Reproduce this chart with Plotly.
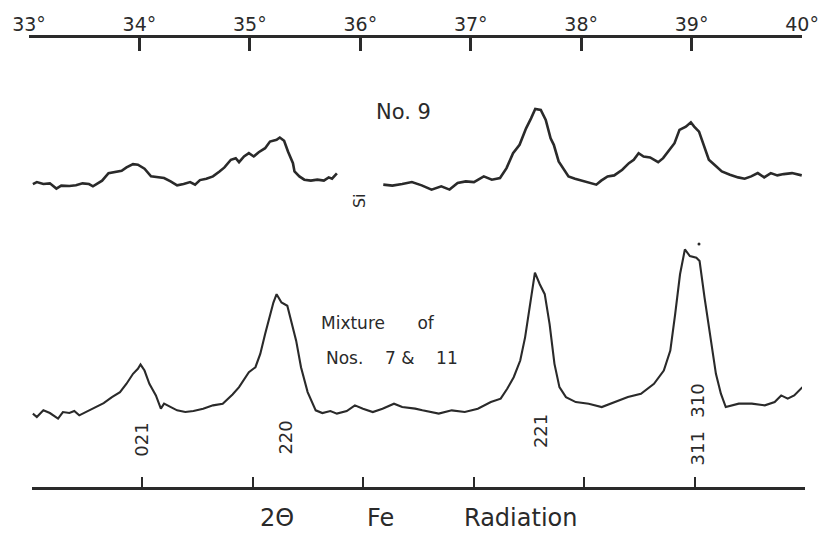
import plotly.graph_objects as go

# ---------------- data (2-theta in degrees, recorder intensity in chart units) -------------
ticks_deg = [33, 34, 35, 36, 37, 38, 39, 40]
tick_labels = ["33°", "34°", "35°", "36°", "37°", "38°", "39°", "40°"]

# Sample No. 9 - left segment (before Si gap)
no9_a_x = [33.035, 33.071, 33.130, 33.189, 33.248, 33.292, 33.366, 33.425, 33.485, 33.543,
           33.579, 33.662, 33.720, 33.780, 33.839, 33.883, 33.942, 33.986, 34.046, 34.105,
           34.163, 34.223, 34.282, 34.341, 34.400, 34.459, 34.504, 34.548, 34.606, 34.666,
           34.725, 34.770, 34.828, 34.872, 34.902, 34.947, 34.991, 35.035, 35.080, 35.138,
           35.182, 35.242, 35.271, 35.310, 35.345, 35.390, 35.404, 35.448, 35.493, 35.552,
           35.611, 35.670, 35.714, 35.744, 35.788]
no9_a_y = [304.3, 306.3, 304.3, 305, 299.7, 302.7, 302.3, 303, 305, 304.3,
           302, 307.7, 315.3, 316.3, 317.7, 321, 324.3, 323.7, 319.7, 312,
           311, 310.3, 307, 303, 304.3, 306.3, 303.7, 308.3, 309.7, 312,
           317, 321, 328.7, 330.3, 326.3, 332, 335.3, 332, 336.3, 340.3,
           347, 348.7, 351, 347.7, 337, 325.3, 317, 312, 308.7, 307.7,
           308.7, 307.7, 311, 309.7, 315]

# Sample No. 9 - right segment (after Si gap)
no9_b_x = [36.208, 36.290, 36.379, 36.467, 36.556, 36.645, 36.733, 36.808, 36.881, 36.955,
           37.029, 37.118, 37.191, 37.265, 37.324, 37.383, 37.442, 37.501, 37.546, 37.584,
           37.634, 37.679, 37.723, 37.752, 37.796, 37.841, 37.885, 37.944, 38.033, 38.137,
           38.181, 38.239, 38.299, 38.372, 38.432, 38.476, 38.520, 38.565, 38.624, 38.697,
           38.742, 38.801, 38.845, 38.890, 38.948, 38.993, 39.023, 39.067, 39.111, 39.156,
           39.214, 39.273, 39.347, 39.421, 39.480, 39.539, 39.599, 39.657, 39.717, 39.776,
           39.834, 39.909, 39.997]
no9_b_y = [303.7, 302.7, 304.3, 306.3, 303, 298.7, 302, 298.7, 305.3, 307,
           306.3, 312, 308.7, 310.3, 320.3, 335.3, 343.7, 360.3, 370.3, 379.7,
           378.7, 368.7, 350.3, 343.7, 327, 318.7, 312, 309.7, 307, 303.7,
           307.7, 312, 313, 318.7, 325.3, 328.7, 335.3, 332, 331, 326.3,
           330.3, 338.7, 345.3, 358.7, 362, 366.3, 362, 357, 343.7, 328.7,
           323, 317, 313.7, 311, 309.7, 312, 315.3, 311, 315.3, 313,
           314.3, 315.3, 313]

# Mixture of Nos. 7 & 11
mix_x = [33.035, 33.071, 33.130, 33.189, 33.263, 33.307, 33.366, 33.410, 33.455, 33.529,
         33.603, 33.676, 33.751, 33.824, 33.883, 33.942, 33.986, 34.010, 34.046, 34.090,
         34.149, 34.194, 34.223, 34.282, 34.341, 34.415, 34.489, 34.577, 34.666, 34.754,
         34.843, 34.902, 34.991, 35.050, 35.094, 35.138, 35.182, 35.213, 35.242, 35.286,
         35.339, 35.375, 35.419, 35.463, 35.523, 35.596, 35.656, 35.729, 35.788, 35.877,
         35.951, 36.024, 36.113, 36.201, 36.305, 36.379, 36.497, 36.562, 36.710, 36.828,
         36.946, 37.064, 37.182, 37.271, 37.330, 37.389, 37.448, 37.492, 37.537, 37.581,
         37.625, 37.670, 37.714, 37.758, 37.803, 37.862, 37.951, 38.068, 38.186, 38.305,
         38.423, 38.541, 38.659, 38.748, 38.807, 38.851, 38.895, 38.939, 38.984, 39.043,
         39.072, 39.117, 39.161, 39.220, 39.265, 39.309, 39.427, 39.545, 39.663, 39.752,
         39.811, 39.870, 39.929, 39.974, 40.003]
mix_y = [73.7, 70.3, 77, 74.3, 68.7, 75.3, 74.3, 76.3, 72, 76.3,
         80.3, 84.3, 90.3, 95.3, 103.7, 113.7, 118.7, 123, 117, 103.7,
         92, 78.7, 83.7, 80.3, 77, 75.3, 76.3, 78.7, 82, 83.7,
         93, 100.3, 115.3, 120.3, 133.7, 153.7, 173.7, 185.3, 193.7, 185.3,
         182, 167, 147, 120.3, 95.3, 77, 74.3, 76.3, 73.7, 76.3,
         82, 78.7, 75.3, 78.7, 83.7, 80.3, 78.7, 77, 73.7, 77,
         75.3, 78.7, 85.3, 88.7, 98.7, 110.3, 127, 150.3, 183.7, 215.3,
         203.7, 193.7, 163.7, 123.7, 100.3, 90.3, 85.3, 83.7, 80.3, 85.3,
         90.3, 93.7, 103.7, 117, 137, 173.7, 213.7, 238.7, 232, 230.3,
         227, 190.3, 157, 113.7, 93.7, 80.3, 83.7, 83.7, 82, 85.3,
         92, 88.7, 92, 97, 100.3]

speck_x = [39.04]
speck_y = [244]

# reflection labels (hkl) and their 2-theta positions
hkl_labels = ["021", "220", "221", "310", "311"]
hkl_x = [33.992, 35.295, 37.599, 39.025, 39.025]

INK = "#2a2a2a"
FONT = "DejaVu Sans"
NB = "\u00a0"


def f(size):
    return dict(family=FONT, size=size, color=INK)


fig = go.Figure()

for xs, ys in [(no9_a_x, no9_a_y), (no9_b_x, no9_b_y)]:
    fig.add_trace(go.Scatter(x=xs, y=ys, xaxis="x2", yaxis="y", mode="lines",
                             line=dict(color=INK, width=2.6), showlegend=False,
                             hoverinfo="skip"))
fig.add_trace(go.Scatter(x=mix_x, y=mix_y, xaxis="x2", yaxis="y", mode="lines",
                         line=dict(color=INK, width=2.1), showlegend=False,
                         hoverinfo="skip"))
fig.add_trace(go.Scatter(x=speck_x, y=speck_y, xaxis="x", yaxis="y", mode="markers",
                         marker=dict(color=INK, size=3), showlegend=False,
                         hoverinfo="skip"))

annotations = []
hkl_y = [48, 50, 56, 87, 39]
for lab, xv, yv in zip(hkl_labels, hkl_x, hkl_y):
    annotations.append(dict(x=xv, y=yv, xref="x", yref="y", text=lab, showarrow=False,
                            textangle=-90, font=f(18)))
annotations += [
    dict(x=35.995, y=288, xref="x2", yref="y", text="Si", showarrow=False, textangle=-90,
         font=f(16)),
    dict(x=36.394, y=377, xref="x2", yref="y", text="No. 9", showarrow=False,
         font=f(21)),
    dict(x=36.163, y=165, xref="x2", yref="y", text="Mixture" + NB * 6 + "of",
         showarrow=False, font=f(17)),
    dict(x=36.287, y=130, xref="x2", yref="y",
         text="Nos." + NB * 4 + "7" + NB + "&" + NB * 4 + "11",
         showarrow=False, font=f(17)),
    dict(x=35.215, y=0, yshift=-31, yanchor="middle", xref="x", yref="paper", text="2Θ",
         showarrow=False, font=f(24)),
    dict(x=36.154, y=0, yshift=-31, yanchor="middle", xref="x", yref="paper", text="Fe",
         showarrow=False, font=f(24)),
    dict(x=37.421, y=0, yshift=-31, yanchor="middle", xref="x", yref="paper",
         text="Radiation", showarrow=False, font=f(24)),
]

W, H = 834, 533
ml, mr, mt, mb = 22, 19, 36, 46
pw = W - ml - mr

fig.update_layout(
    width=W, height=H,
    margin=dict(l=ml, r=mr, t=mt, b=mb),
    paper_bgcolor="white", plot_bgcolor="rgba(0,0,0,0)",
    showlegend=False,
    xaxis=dict(range=[33, 40], domain=[3 / pw, 1], anchor="y", side="bottom",
               showline=True, linecolor=INK, linewidth=2.6, mirror=False,
               ticks="inside", ticklen=10, tickwidth=2.4, tickcolor=INK,
               tickvals=ticks_deg, showticklabels=False, showgrid=False,
               zeroline=False, fixedrange=True),
    xaxis2=dict(range=[33, 40], domain=[0, (pw - 3) / pw], anchor="y", side="top",
                showline=True, linecolor=INK, linewidth=2.8,
                ticks="inside", ticklen=13, tickwidth=2.6, tickcolor=INK,
                tickvals=ticks_deg, ticktext=tick_labels,
                tickfont=f(19), ticklabelstandoff=-3,
                showgrid=False, zeroline=False, fixedrange=True),
    yaxis=dict(range=[0, H - mt - mb], visible=False, showgrid=False, zeroline=False,
               fixedrange=True),
    annotations=annotations,
)

fig.write_html("out.html")
